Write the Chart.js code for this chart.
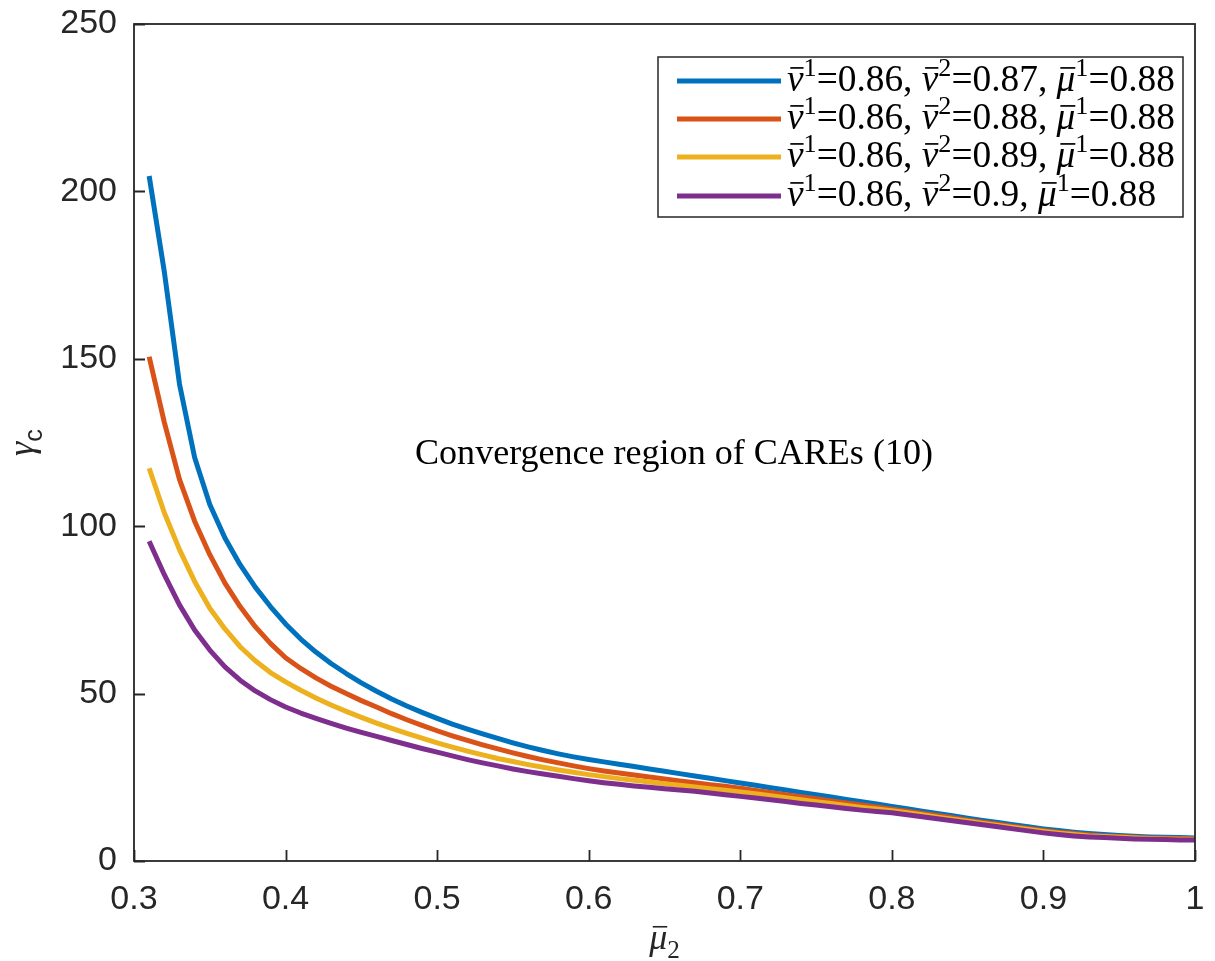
<!DOCTYPE html>
<html>
<head>
<meta charset="utf-8">
<script src="https://cdn.jsdelivr.net/npm/chart.js@4.4.0/dist/chart.umd.min.js"></script>
<style>
  html, body { margin: 0; padding: 0; background: #fff; }
  #wrap { width: 1215px; height: 961px; }
</style>
</head>
<body>
<div id="wrap"><canvas id="c" width="1215" height="961"></canvas></div>
<script>
// x values (mu bar 2)
const mu2 = [
  0.31, 0.32, 0.33, 0.34, 0.35, 0.36, 0.37, 0.38, 0.39, 0.40,
  0.41, 0.42, 0.43, 0.44, 0.45, 0.46, 0.47, 0.48, 0.49, 0.50,
  0.51, 0.52, 0.53, 0.54, 0.55, 0.56, 0.57, 0.58, 0.59, 0.60,
  0.61, 0.62, 0.63, 0.64, 0.65, 0.66, 0.67, 0.68, 0.69, 0.70,
  0.71, 0.72, 0.73, 0.74, 0.75, 0.76, 0.77, 0.78, 0.79, 0.80,
  0.81, 0.82, 0.83, 0.84, 0.85, 0.86, 0.87, 0.88, 0.89, 0.90,
  0.91, 0.92, 0.93, 0.94, 0.95, 0.96, 0.97, 0.98, 0.99, 1.00
];

// gamma_c, one array per curve (v2 = 0.87 ... 0.9)
const gammaV087 = [
  204.6, 176, 142.5, 120.5, 106.5, 96.5, 88.5, 81.8, 76.0, 70.8,
  66.3, 62.4, 59.0, 56.0, 53.2, 50.7, 48.4, 46.3, 44.4, 42.6,
  40.9, 39.4, 38.0, 36.6, 35.3, 34.1, 33.0, 32.0, 31.1, 30.3,
  29.6, 28.9, 28.2, 27.5, 26.8, 26.1, 25.4, 24.7, 24.0, 23.3,
  22.6, 21.9, 21.2, 20.5, 19.8, 19.1, 18.4, 17.7, 17.0, 16.3,
  15.6, 14.9, 14.2, 13.5, 12.8, 12.1, 11.5, 10.8, 10.2, 9.6,
  9.1, 8.6, 8.2, 7.9, 7.6, 7.4, 7.2, 7.1, 7.0, 6.9
];
const gammaV088 = [
  150.6, 131, 114, 101.5, 91.5, 83, 76, 70, 65, 60.7,
  57.5, 54.7, 52.2, 50.0, 47.9, 46.0, 44.0, 42.2, 40.5, 38.9,
  37.4, 36.0, 34.7, 33.5, 32.3, 31.2, 30.2, 29.3, 28.4, 27.6,
  26.9, 26.3, 25.7, 25.1, 24.5, 23.9, 23.4, 22.8, 22.3, 21.7,
  21.1, 20.5, 19.8, 19.2, 18.6, 17.9, 17.3, 16.7, 16.1, 15.5,
  14.9, 14.2, 13.6, 12.9, 12.2, 11.6, 11.0, 10.3, 9.7, 9.1,
  8.6, 8.2, 7.8, 7.5, 7.3, 7.1, 6.9, 6.8, 6.7, 6.6
];
const gammaV089 = [
  117.3, 104, 93, 83.5, 75.5, 69.3, 64, 59.8, 56.3, 53.5,
  51.0, 48.7, 46.6, 44.7, 42.9, 41.2, 39.6, 38.1, 36.7, 35.3,
  34.0, 32.8, 31.7, 30.6, 29.7, 28.8, 28.0, 27.2, 26.5, 25.8,
  25.2, 24.6, 24.1, 23.6, 23.1, 22.6, 22.1, 21.6, 21.1, 20.6,
  20.1, 19.5, 18.9, 18.3, 17.7, 17.2, 16.6, 16.0, 15.5, 15.0,
  14.4, 13.8, 13.1, 12.5, 11.9, 11.2, 10.6, 10.0, 9.4, 8.8,
  8.3, 7.9, 7.5, 7.3, 7.1, 6.9, 6.7, 6.6, 6.5, 6.5
];
const gammaV090 = [
  95.5, 85.5, 76.5, 69, 63, 58, 54, 50.8, 48.2, 46.0,
  44.2, 42.6, 41.1, 39.7, 38.4, 37.2, 36.0, 34.8, 33.6, 32.5,
  31.4, 30.3, 29.3, 28.4, 27.5, 26.7, 26.0, 25.3, 24.6, 24.0,
  23.4, 22.9, 22.4, 22.0, 21.6, 21.2, 20.8, 20.3, 19.8, 19.3,
  18.8, 18.3, 17.8, 17.2, 16.7, 16.2, 15.7, 15.2, 14.8, 14.4,
  13.8, 13.2, 12.6, 12.0, 11.4, 10.8, 10.2, 9.6, 9.0, 8.4,
  7.9, 7.5, 7.2, 7.0, 6.8, 6.6, 6.5, 6.4, 6.3, 6.3
];

const v1Value = '0.86';
const v2Values = ['0.87', '0.88', '0.89', '0.9'];
const mu1Value = '0.88';
const xTicks = [0.3, 0.4, 0.5, 0.6, 0.7, 0.8, 0.9, 1];
const xTickLabels = ['0.3', '0.4', '0.5', '0.6', '0.7', '0.8', '0.9', '1'];
const yTicks = [0, 50, 100, 150, 200, 250];
const annotationText = 'Convergence region of CAREs (10)';

const colors = ['#0072BD', '#D95319', '#EDB120', '#7E2F8E'];
const allSeries = [gammaV087, gammaV088, gammaV089, gammaV090];
const axisColor = '#262626';

// draws a run of text pieces (italic / bar / superscript / subscript)
function richRun(ctx, parts, x, y, size, draw) {
  let cx = x;
  parts.forEach(p => {
    const small = p.sup || p.sub;
    const fs = small ? size * 0.7 : size;
    const fam = p.sans ? 'Liberation Sans' : 'Liberation Serif';
    ctx.font = (p.it ? 'italic ' : '') + fs + 'px "' + fam + '"';
    const dy = p.sup ? -size * 0.4 : (p.sub ? size * 0.24 : 0);
    const w = ctx.measureText(p.t).width;
    if (draw) {
      ctx.fillText(p.t, cx, y + dy);
      if (p.bar) {
        ctx.fillRect(cx + w * 0.2, y - size * 0.64, w * 0.8, Math.max(1.3, size * 0.045));
      }
    }
    cx += w;
  });
  return cx - x;
}

function legendParts(v2) {
  return [
    { t: 'v', it: true, bar: true }, { t: '1', sup: true }, { t: '=' + v1Value + ', ' },
    { t: 'v', it: true, bar: true }, { t: '2', sup: true }, { t: '=' + v2 + ', ' },
    { t: 'μ', it: true, bar: true }, { t: '1', sup: true }, { t: '=' + mu1Value }
  ];
}

const matlabLook = {
  id: 'matlabLook',
  afterDatasetsDraw(chart) {
    const { ctx, chartArea: a, scales: { x, y } } = chart;
    ctx.save();
    ctx.strokeStyle = axisColor;
    ctx.lineWidth = 1.8;
    ctx.strokeRect(a.left, a.top, a.right - a.left, a.bottom - a.top);
    ctx.beginPath();
    yTicks.forEach(v => {
      const py = Math.round(y.getPixelForValue(v)) + 0.5;
      ctx.moveTo(a.left, py);
      ctx.lineTo(a.left + 11, py);
    });
    xTicks.forEach(v => {
      const px = Math.round(x.getPixelForValue(v)) + 0.5;
      ctx.moveTo(px, a.bottom);
      ctx.lineTo(px, a.bottom - 11);
    });
    ctx.stroke();
    ctx.restore();
  },
  afterDraw(chart) {
    const { ctx, chartArea: a } = chart;
    ctx.save();
    ctx.fillStyle = '#000';
    ctx.textBaseline = 'alphabetic';

    // annotation text in the plot
    let fs = 34;
    ctx.font = fs + 'px "Liberation Serif"';
    fs = fs * 518 / ctx.measureText(annotationText).width;
    ctx.font = fs + 'px "Liberation Serif"';
    ctx.textAlign = 'center';
    ctx.fillText(annotationText, 674, 464);
    ctx.textAlign = 'left';

    // legend
    const lx = 658, ly = 57, lw = 525, lh = 160;
    ctx.fillStyle = '#fff';
    ctx.fillRect(lx, ly, lw, lh);
    ctx.strokeStyle = axisColor;
    ctx.lineWidth = 1.5;
    ctx.strokeRect(lx, ly, lw, lh);
    let size = 30;
    size = size * 388 / richRun(ctx, legendParts(v2Values[0]), 0, 0, size, false);
    const rowY = [81, 119, 157, 196];
    v2Values.forEach((v2, i) => {
      ctx.strokeStyle = colors[i];
      ctx.lineWidth = 5;
      ctx.beginPath();
      ctx.moveTo(677, rowY[i]);
      ctx.lineTo(781, rowY[i]);
      ctx.stroke();
      ctx.fillStyle = '#000';
      richRun(ctx, legendParts(v2), 787, rowY[i] + 10, size, true);
    });

    // x axis title
    ctx.fillStyle = axisColor;
    const xt = [{ t: 'μ', it: true, bar: true }, { t: '2', sub: true }];
    const xw = richRun(ctx, xt, 0, 0, 36, false);
    richRun(ctx, xt, (a.left + a.right) / 2 - xw / 2, 949, 36, true);

    // y axis title (rotated)
    ctx.translate(33, (a.top + a.bottom) / 2);
    ctx.rotate(-Math.PI / 2);
    const yt = [{ t: 'γ', it: true }, { t: 'c', sub: true, sans: true }];
    const yw = richRun(ctx, yt, 0, 0, 36, false);
    richRun(ctx, yt, -yw / 2, 0, 36, true);
    ctx.restore();
  }
};

const datasets = allSeries.map((arr, i) => ({
  label: 'v2=' + v2Values[i],
  data: mu2.map((m, j) => ({ x: m, y: arr[j] })),
  borderColor: colors[i],
  backgroundColor: colors[i],
  borderWidth: 5,
  pointRadius: 0,
  tension: 0,
  borderJoinStyle: 'round',
  fill: false,
  order: 4 - i
}));

new Chart(document.getElementById('c'), {
  type: 'line',
  data: { datasets },
  options: {
    responsive: false,
    animation: false,
    devicePixelRatio: 1,
    layout: { padding: { left: 0, right: 20, top: 24, bottom: 0 } },
    plugins: { legend: { display: false }, tooltip: { enabled: false } },
    scales: {
      x: {
        type: 'linear',
        min: 0.3,
        max: 1,
        grid: { display: false },
        border: { display: false },
        afterBuildTicks: s => { s.ticks = xTicks.map(v => ({ value: v })); },
        afterFit: s => { s.height = 100; s.paddingLeft = 0; s.paddingRight = 0; },
        ticks: {
          autoSkip: false,
          maxRotation: 0,
          padding: 10,
          color: axisColor,
          font: { family: 'Liberation Sans', size: 34 },
          callback: v => xTickLabels[xTicks.findIndex(t => Math.abs(t - v) < 1e-9)]
        }
      },
      y: {
        type: 'linear',
        min: 0,
        max: 250,
        grid: { display: false },
        border: { display: false },
        afterBuildTicks: s => { s.ticks = yTicks.map(v => ({ value: v })); },
        afterFit: s => { s.width = 134; s.paddingTop = 0; s.paddingBottom = 0; },
        ticks: {
          padding: 9,
          color: axisColor,
          font: { family: 'Liberation Sans', size: 34 },
          callback: v => String(v)
        }
      }
    }
  },
  plugins: [matlabLook]
});
</script>
</body>
</html>
